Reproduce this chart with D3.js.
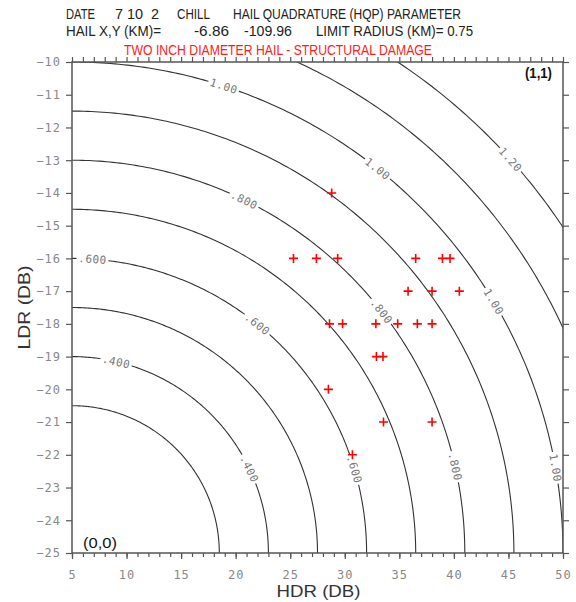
<!DOCTYPE html>
<html>
<head>
<meta charset="utf-8">
<script src="https://cdn.jsdelivr.net/npm/d3@7"></script>
<style>
  body { margin: 0; background: #fff; }
  svg { display: block; }
  .tick-label { font-family: "DejaVu Sans Mono", monospace; font-size: 12px; fill: #888;
                font-variant-numeric: slashed-zero; letter-spacing: 1px; }
  .clabel { font-family: "DejaVu Sans Mono", monospace; font-size: 11px; fill: #777;
            font-variant-numeric: slashed-zero; letter-spacing: 0.5px; }
  .title { font-family: "Liberation Sans", Arial, sans-serif; font-size: 14.5px; fill: #222; white-space: pre; }
</style>
</head>
<body>
<div id="chart-area"></div>
<script>
const WIDTH = 576;
const HEIGHT = 602;
const PLOT = {left: 72, right: 563, top: 62, bottom: 553};

// axis domains
const hdrDomain = [5, 50];
const ldrDomain = [-25, -10];
const hdrTicks = [5, 10, 15, 20, 25, 30, 35, 40, 45, 50];
const ldrTicks = [-25, -24, -23, -22, -21, -20, -19, -18, -17, -16, -15, -14, -13, -12, -11, -10];

// HQP contour levels (quarter circles from the (0,0) corner)
const contourLevels = [0.3, 0.4, 0.5, 0.6, 0.7, 0.8, 0.9, 1.0, 1.1, 1.2];
// contour labels: level and polar angle (deg) along the contour
const labelLevels = [1.0, 1.0, 1.0, 1.0, 1.2, 0.8, 0.8, 0.8, 0.6, 0.6, 0.6, 0.4, 0.4];
const labelAngles = [72, 51.5, 30.8, 10, 41.9, 64, 38, 12.7, 86, 51, 16.5, 77, 25.4];
const labelTexts = ['1.00', '1.00', '1.00', '1.00', '1.20', '.800', '.800', '.800', '.600', '.600', '.600', '.400', '.400'];

// hail observations
const pointHdr = [28.8,
  25.3, 27.4, 29.35, 36.5, 38.95, 39.65,
  35.8, 38.0, 40.5,
  28.6, 29.8, 32.85, 34.85, 36.65, 38.0,
  32.9, 33.5,
  28.5,
  33.55, 38.0,
  30.7];
const pointLdr = [-14,
  -16, -16, -16, -16, -16, -16,
  -17, -17, -17,
  -18, -18, -18, -18, -18, -18,
  -19, -19,
  -20,
  -21, -21,
  -22];

main();

function main() {
  const svg = d3.select('#chart-area').append('svg')
    .attr('width', WIDTH)
    .attr('height', HEIGHT);

  const x = d3.scaleLinear().domain(hdrDomain).range([PLOT.left, PLOT.right]);
  const y = d3.scaleLinear().domain(ldrDomain).range([PLOT.bottom, PLOT.top]);

  drawTitle(svg);
  drawContours(svg, x, y);
  drawAxes(svg, x, y);
  drawPoints(svg, x, y);
}

function drawTitle(svg) {
  const pieces = [
    ['DATE', 66, 18.5, 29, '#222'],
    ['7 10  2', 115, 18.5, 44, '#222'],
    ['CHILL', 177, 18.5, 33, '#222'],
    ['HAIL QUADRATURE (HQP) PARAMETER', 233, 18.5, 228, '#222'],
    ['HAIL X,Y (KM)=', 66, 35.5, 95, '#222'],
    ['-6.86', 194, 35.5, 35, '#222'],
    ['-109.96', 244, 35.5, 48, '#222'],
    ['LIMIT RADIUS (KM)= 0.75', 316, 35.5, 157, '#222'],
    ['TWO INCH DIAMETER HAIL - STRUCTURAL DAMAGE', 124, 55, 308, '#ff1a1a'],
  ];
  svg.selectAll('text.title').data(pieces).enter()
    .append('text')
    .attr('class', 'title')
    .attr('x', d => d[1])
    .attr('y', d => d[2])
    .attr('textLength', d => d[3])
    .attr('lengthAdjust', 'spacingAndGlyphs')
    .style('fill', d => d[4])
    .text(d => d[0]);
}

function contourPoint(x, y, level, deg) {
  const t = deg * Math.PI / 180;
  const hx = hdrDomain[0] + (hdrDomain[1] - hdrDomain[0]) * level * Math.cos(t);
  const ly = ldrDomain[0] + (ldrDomain[1] - ldrDomain[0]) * level * Math.sin(t);
  return [x(hx), y(ly)];
}

function drawContours(svg, x, y) {
  svg.append('clipPath').attr('id', 'plot-clip')
    .append('rect')
    .attr('x', PLOT.left).attr('y', PLOT.top)
    .attr('width', PLOT.right - PLOT.left).attr('height', PLOT.bottom - PLOT.top);

  const g = svg.append('g').attr('clip-path', 'url(#plot-clip)');
  const line = d3.line();
  const angles = d3.range(0, 90.5, 0.5);

  g.selectAll('path.contour').data(contourLevels).enter()
    .append('path')
    .attr('class', 'contour')
    .attr('d', lv => line(angles.map(a => contourPoint(x, y, lv, a))))
    .attr('fill', 'none')
    .attr('stroke', '#333')
    .attr('stroke-width', 1.1);

  const labels = labelLevels.map((lv, i) => ({lv, a: labelAngles[i], t: labelTexts[i]}));
  const lg = g.selectAll('g.clabel').data(labels).enter()
    .append('g')
    .attr('transform', d => {
      const [px, py] = contourPoint(x, y, d.lv, d.a);
      return `translate(${px},${py}) rotate(${90 - d.a})`;
    });
  lg.append('rect')
    .attr('x', -16).attr('y', -5)
    .attr('width', 32).attr('height', 10)
    .attr('fill', '#fff');
  lg.append('text')
    .attr('class', 'clabel')
    .attr('text-anchor', 'middle')
    .attr('dy', '0.36em')
    .text(d => d.t);
}

function drawAxes(svg, x, y) {
  const g = svg.append('g');
  const minorX = d3.range(hdrDomain[0], hdrDomain[1] + 1, 1);

  g.append('g')
    .attr('transform', `translate(0,${PLOT.bottom})`)
    .call(d3.axisBottom(x).tickValues(minorX).tickSize(4).tickFormat(''));
  g.append('g')
    .attr('transform', `translate(0,${PLOT.bottom})`)
    .call(d3.axisBottom(x).tickValues(hdrTicks).tickSize(6).tickPadding(11).tickFormat(d3.format('d')));
  g.append('g')
    .attr('transform', `translate(0,${PLOT.top})`)
    .call(d3.axisTop(x).tickValues(minorX).tickSize(5).tickFormat(''));
  g.append('g')
    .attr('transform', `translate(${PLOT.left},0)`)
    .call(d3.axisLeft(y).tickValues(ldrTicks).tickSize(6).tickPadding(5).tickFormat(d3.format('d')));
  g.append('g')
    .attr('transform', `translate(${PLOT.right},0)`)
    .call(d3.axisRight(y).tickValues(ldrTicks).tickSize(6).tickFormat(''));

  g.selectAll('.domain').remove();
  g.selectAll('.tick line').attr('stroke', '#555').attr('stroke-width', 1.2);
  g.selectAll('.tick text').attr('class', 'tick-label').attr('fill', null).attr('font-size', null).attr('font-family', null);

  g.append('rect')
    .attr('x', PLOT.left).attr('y', PLOT.top)
    .attr('width', PLOT.right - PLOT.left).attr('height', PLOT.bottom - PLOT.top)
    .attr('fill', 'none')
    .attr('stroke', '#555')
    .attr('stroke-width', 1.5);

  svg.append('text')
    .attr('class', 'title')
    .attr('x', (PLOT.left + PLOT.right) / 2 + 1)
    .attr('y', 597)
    .attr('text-anchor', 'middle')
    .attr('textLength', 84)
    .attr('lengthAdjust', 'spacingAndGlyphs')
    .style('font-size', '17px')
    .style('fill', '#333')
    .text('HDR (DB)');

  svg.append('text')
    .attr('class', 'title')
    .attr('transform', `translate(30,${(PLOT.top + PLOT.bottom) / 2}) rotate(-90)`)
    .attr('text-anchor', 'middle')
    .attr('textLength', 84)
    .attr('lengthAdjust', 'spacingAndGlyphs')
    .style('font-size', '17px')
    .style('fill', '#333')
    .text('LDR (DB)');

  svg.append('text')
    .attr('class', 'title')
    .attr('x', 525).attr('y', 78)
    .attr('textLength', 27)
    .attr('lengthAdjust', 'spacingAndGlyphs')
    .style('font-size', '14px')
    .style('font-weight', 'bold')
    .style('fill', '#111')
    .text('(1,1)');
  svg.append('text')
    .attr('class', 'title')
    .attr('x', 83).attr('y', 548)
    .attr('textLength', 34)
    .attr('lengthAdjust', 'spacingAndGlyphs')
    .style('font-size', '14px')
    .style('fill', '#111')
    .text('(0,0)');
}

function drawPoints(svg, x, y) {
  const pts = pointHdr.map((h, i) => ({h, l: pointLdr[i]}));
  svg.append('g').selectAll('path').data(pts).enter()
    .append('path')
    .attr('transform', d => `translate(${x(d.h)},${y(d.l)})`)
    .attr('d', 'M-4.5,0H4.5M0,-4.5V4.5')
    .attr('stroke', '#ff0000')
    .attr('stroke-width', 1.6)
    .attr('fill', 'none');
}
</script>
</body>
</html>
